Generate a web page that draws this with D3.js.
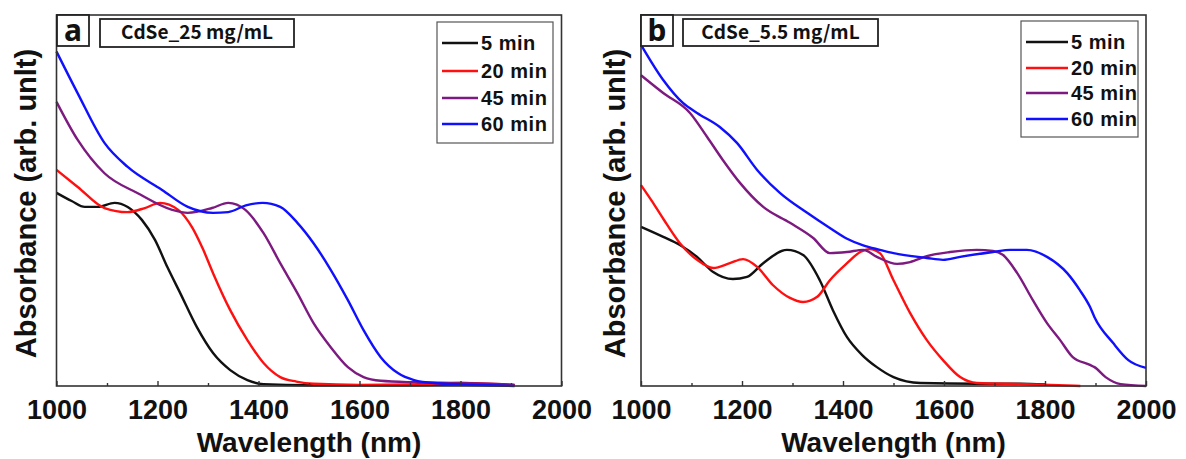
<!DOCTYPE html>
<html><head><meta charset="utf-8">
<script src="https://cdn.jsdelivr.net/npm/d3@7"></script>
<style>
html,body{margin:0;padding:0;background:#fff;}
svg{display:block;}
text{font-family:"Liberation Sans",Arial,sans-serif;font-weight:bold;fill:#111;}
</style></head>
<body><svg id="chart" width="1186" height="459"></svg>
<script>
// ---------- data (wavelength nm, absorbance arb. units) ----------
const seriesNames = ["5 min", "20 min", "45 min", "60 min"];
const seriesColors = ["#111111", "#ff1010", "#7d1a80", "#1010ff"];
const xTicksMajor = [1000, 1200, 1400, 1600, 1800, 2000];
const xTicksMinor = [1100, 1300, 1500, 1700, 1900];
const panelTitles = ["CdSe_25 mg/mL", "CdSe_5.5 mg/mL"];
const panelLetters = ["a", "b"];

const a_5min = [[1000,0.522],[1030,0.50],[1056,0.484],[1082,0.484],[1115,0.495],[1141,0.484],[1169,0.449],[1195,0.395],[1220,0.32],[1245,0.251],[1278,0.159],[1310,0.089],[1344,0.043],[1378,0.016],[1410,0.005],[1500,0.002],[1700,0.002],[1800,0.004],[1907,0.002]];
const a_20min = [[1000,0.584],[1042,0.538],[1095,0.481],[1141,0.470],[1175,0.481],[1205,0.495],[1241,0.476],[1268,0.43],[1290,0.37],[1310,0.305],[1344,0.205],[1378,0.124],[1410,0.062],[1443,0.024],[1475,0.012],[1509,0.006],[1600,0.003],[1700,0.004],[1800,0.008],[1907,0.003]];
const a_45min = [[1000,0.768],[1042,0.665],[1095,0.575],[1161,0.521],[1229,0.476],[1260,0.468],[1308,0.481],[1340,0.495],[1374,0.476],[1410,0.413],[1443,0.332],[1477,0.251],[1509,0.170],[1543,0.105],[1577,0.051],[1608,0.024],[1642,0.014],[1708,0.01],[1800,0.008],[1907,0.003]];
const a_60min = [[1000,0.904],[1042,0.791],[1095,0.657],[1141,0.592],[1209,0.530],[1260,0.484],[1310,0.468],[1340,0.470],[1375,0.488],[1408,0.495],[1443,0.484],[1477,0.441],[1509,0.386],[1543,0.314],[1577,0.232],[1608,0.151],[1642,0.078],[1676,0.035],[1708,0.016],[1748,0.008],[1907,0.0]];

const b_5min = [[1000,0.43],[1044,0.403],[1077,0.381],[1111,0.349],[1143,0.308],[1182,0.289],[1210,0.295],[1242,0.332],[1289,0.368],[1321,0.354],[1354,0.286],[1380,0.205],[1408,0.132],[1437,0.085],[1467,0.051],[1500,0.024],[1553,0.008],[1665,0.006],[1750,0.006],[1800,0.004]];
const b_20min = [[1000,0.543],[1020,0.503],[1044,0.452],[1077,0.386],[1111,0.341],[1143,0.319],[1176,0.332],[1202,0.343],[1230,0.322],[1261,0.273],[1295,0.238],[1321,0.227],[1349,0.241],[1374,0.286],[1408,0.332],[1434,0.362],[1453,0.370],[1473,0.359],[1500,0.286],[1533,0.197],[1566,0.124],[1598,0.070],[1632,0.024],[1665,0.008],[1764,0.005],[1870,0.0]];
const b_45min = [[1000,0.84],[1044,0.792],[1097,0.738],[1131,0.673],[1162,0.611],[1196,0.549],[1242,0.484],[1295,0.441],[1341,0.4],[1374,0.359],[1408,0.362],[1440,0.368],[1467,0.349],[1507,0.330],[1533,0.335],[1566,0.351],[1612,0.362],[1665,0.368],[1697,0.365],[1717,0.354],[1745,0.305],[1776,0.232],[1804,0.170],[1830,0.124],[1855,0.078],[1889,0.057],[1898,0.051],[1920,0.024],[1950,0.005],[2000,0.0]];
const b_60min = [[1000,0.922],[1044,0.827],[1083,0.765],[1111,0.738],[1156,0.70],[1190,0.657],[1230,0.584],[1275,0.522],[1329,0.468],[1374,0.427],[1408,0.398],[1440,0.38],[1473,0.368],[1500,0.359],[1566,0.346],[1598,0.341],[1632,0.349],[1697,0.362],[1731,0.368],[1764,0.368],[1804,0.349],[1844,0.305],[1869,0.259],[1889,0.214],[1898,0.186],[1935,0.116],[1965,0.07],[2000,0.049]];

const panelData = [[a_5min, a_20min, a_45min, a_60min], [b_5min, b_20min, b_45min, b_60min]];

// ---------- layout ----------
const svg = d3.select("#chart");
const panels = [
  {left: 56.5, right: 561.5, top: 15, bottom: 386, ylabX: 26,
   letterBox: [57, 15, 32, 31], titleBox: [100, 19, 194, 28],
   legend: [437, 22, 116, 121], legendRows: [43, 71, 98, 124], legLine: [442, 478]},
  {left: 641, right: 1146, top: 15, bottom: 386, ylabX: 615,
   letterBox: [641, 15, 32, 31], titleBox: [683, 19, 195, 27],
   legend: [1021, 21, 117, 116], legendRows: [42, 68, 93, 119], legLine: [1026, 1068]}
];

panels.forEach((p, pi) => {
  const x = d3.scaleLinear().domain([1000, 2000]).range([p.left, p.right]);
  const y = d3.scaleLinear().domain([0, 1]).range([p.bottom, p.top + 1]);
  const g = svg.append("g");

  // curves
  const line = d3.line().x(d => x(d[0])).y(d => y(d[1])).curve(d3.curveMonotoneX);
  panelData[pi].forEach((s, si) => {
    g.append("path").attr("d", line(s)).attr("fill", "none")
      .attr("stroke", seriesColors[si]).attr("stroke-width", 2.4)
      .attr("stroke-linejoin", "round");
  });

  // frame
  g.append("rect").attr("x", p.left).attr("y", p.top)
    .attr("width", p.right - p.left).attr("height", p.bottom - p.top)
    .attr("fill", "none").attr("stroke", "#333").attr("stroke-width", 1.6);

  // x axis (major + minor ticks pointing inward)
  const axMaj = d3.axisBottom(x).tickValues(xTicksMajor).tickSize(-5).tickPadding(14).tickFormat(d3.format("d"));
  const ga = g.append("g").attr("transform", `translate(0,${p.bottom})`).call(axMaj);
  ga.select(".domain").remove();
  ga.selectAll(".tick line").attr("stroke", "#333").attr("stroke-width", 1.4);
  ga.selectAll(".tick text").attr("font-size", 27).attr("font-family", "Liberation Sans, Arial, sans-serif")
    .attr("font-weight", "bold").attr("fill", "#111");
  const axMin = d3.axisBottom(x).tickValues(xTicksMinor).tickSize(-3).tickFormat("");
  const gm = g.append("g").attr("transform", `translate(0,${p.bottom})`).call(axMin);
  gm.select(".domain").remove();
  gm.selectAll(".tick line").attr("stroke", "#333").attr("stroke-width", 1.4);

  // axis titles
  g.append("text").attr("x", (p.left + p.right) / 2).attr("y", 452)
    .attr("text-anchor", "middle").attr("font-size", 28).text("Wavelength (nm)");
  g.append("text").attr("transform", `translate(${p.ylabX + 10},${(p.top + p.bottom) / 2 + 3}) rotate(-90)`)
    .attr("text-anchor", "middle").attr("font-size", 29).text("Absorbance (arb. unlt)");

  // panel letter box
  const lb = p.letterBox;
  g.append("rect").attr("x", lb[0]).attr("y", lb[1]).attr("width", lb[2]).attr("height", lb[3])
    .attr("fill", "#fff").attr("stroke", "#222").attr("stroke-width", 1.8);
  g.append("text").attr("x", lb[0] + lb[2] / 2).attr("y", lb[1] + lb[3] - 5)
    .attr("text-anchor", "middle").attr("font-size", 30)
    .style("font-family", "'Noto Sans', sans-serif").text(panelLetters[pi]);

  // title box
  const tb = p.titleBox;
  g.append("rect").attr("x", tb[0]).attr("y", tb[1]).attr("width", tb[2]).attr("height", tb[3])
    .attr("fill", "#fff").attr("stroke", "#222").attr("stroke-width", 1.8);
  g.append("text").attr("x", tb[0] + tb[2] / 2).attr("y", tb[1] + tb[3] / 2 + 6)
    .attr("text-anchor", "middle").attr("font-size", 19)
    .style("font-family", "'Noto Sans CJK KR', 'Noto Sans', sans-serif").text(panelTitles[pi]);

  // legend
  const lg = p.legend;
  g.append("rect").attr("x", lg[0]).attr("y", lg[1]).attr("width", lg[2]).attr("height", lg[3])
    .attr("fill", "#fff").attr("stroke", "#555").attr("stroke-width", 1.2);
  seriesNames.forEach((n, si) => {
    const yy = p.legendRows[si];
    g.append("line").attr("x1", p.legLine[0]).attr("x2", p.legLine[1]).attr("y1", yy).attr("y2", yy)
      .attr("stroke", seriesColors[si]).attr("stroke-width", 2.4);
    g.append("text").attr("x", p.legLine[1] + 3).attr("y", yy + 7).attr("font-size", 20)
      .attr("letter-spacing", 0.5).text(n);
  });
});
</script></body></html>
